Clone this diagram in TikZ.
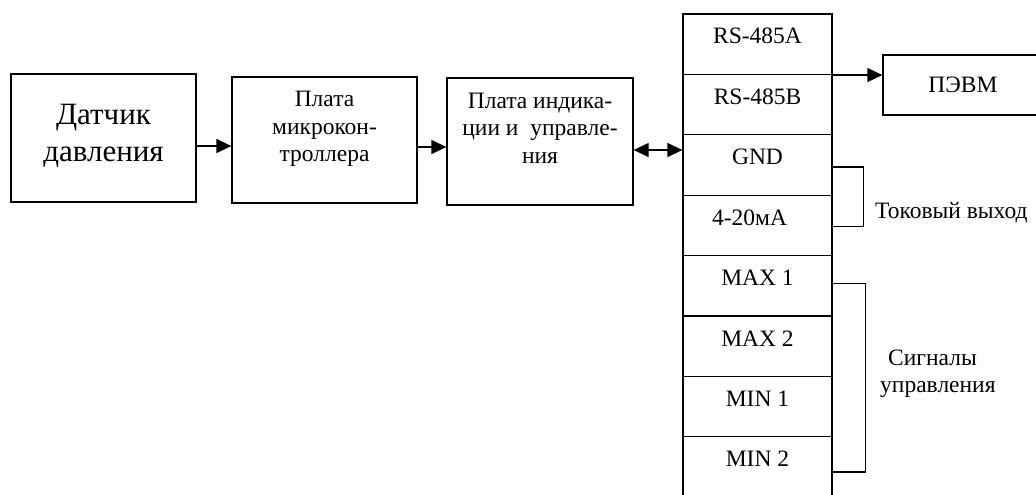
\documentclass[tikz,border=0pt]{standalone}
\usepackage{fontspec}
\setmainfont{Liberation Serif}
\usetikzlibrary{arrows.meta, positioning}

\tikzset{
  blok/.style={draw, line width=1.3pt, inner sep=0pt},
  yach/.style={draw, line width=1.3pt, minimum width=149pt, minimum height=60.4pt, inner sep=0pt},
  mtxt/.style={font=\fontsize{23.5}{27.5}\selectfont, align=center, inner sep=0pt},
  strel/.style={-{Triangle[length=15pt,width=14pt]}, line width=1.3pt},
  dvstrel/.style={{Triangle[length=15pt,width=14pt]}-{Triangle[length=15pt,width=14pt]}, line width=1.3pt},
  skob/.style={line width=1.3pt},
}

\begin{document}
\begin{tikzpicture}[x=1pt,y=-1pt]
\useasboundingbox (0,0) rectangle (1036,495);
\clip (0,0) rectangle (1036,495);

% bloki
\node[blok, minimum width=185pt, minimum height=128pt] (dat) at (103.5,138) {};
\node[font=\fontsize{31}{37}\selectfont, align=center, inner sep=0pt] at (103.5,136) {Датчик\\давления};

\node[blok, minimum width=185pt, minimum height=126pt] (mk) at (324.5,140) {};
\node[mtxt, anchor=north] at (324.5,91) {Плата\\микрокон-\\троллера};

\node[blok, minimum width=186pt, minimum height=127pt] (ind) at (540,141.5) {};
\node[mtxt, anchor=north] at (540,92.5) {Плата индика-\\ции и \ управле-\\ния};

% razjem
\foreach \t/\dx [count=\i] in {RS-485A/0, RS-485B/0, GND/0, 4-20мА/-8, MAX 1/0, MAX 2/0, MIN 1/0, MIN 2/0} {
  \node[yach] (r\i) at (757.5,{14+60.4*(\i-0.5)}) {};
  \node[mtxt, anchor=base] at ({757.5+\dx},{14+60.4*(\i-1)+30}) {\t};
}

\node[blok, mtxt, minimum width=160pt, minimum height=60pt] (pevm) at (963,85) {ПЭВМ};

% strelki
\draw[strel] ([yshift=-8pt]dat.east) -- ([yshift=-8pt]dat.east -| mk.west);
\draw[strel] ([yshift=-7pt]mk.east) -- ([yshift=-7pt]mk.east -| ind.west);
\draw[dvstrel] ([yshift=-8.5pt]ind.east) -- ([yshift=-8.5pt]ind.east -| r3.west);
\draw[strel] (r1.south east) -- (r1.south east -| pevm.west);

% skobki
\draw[skob] ([yshift=-2pt]r3.east) -- ++(31,0) |- ([yshift=-1pt]r4.east);
\node[mtxt, anchor=base west] at (875,218) {Токовый выход};

\draw[skob] ([yshift=2pt]r5.east) -- ++(33,0) |- ([yshift=-5pt]r8.east);
\node[mtxt, anchor=north west, align=left] at (880,349.5) {\hspace*{8pt}Сигналы\\управления};
\end{tikzpicture}
\end{document}
